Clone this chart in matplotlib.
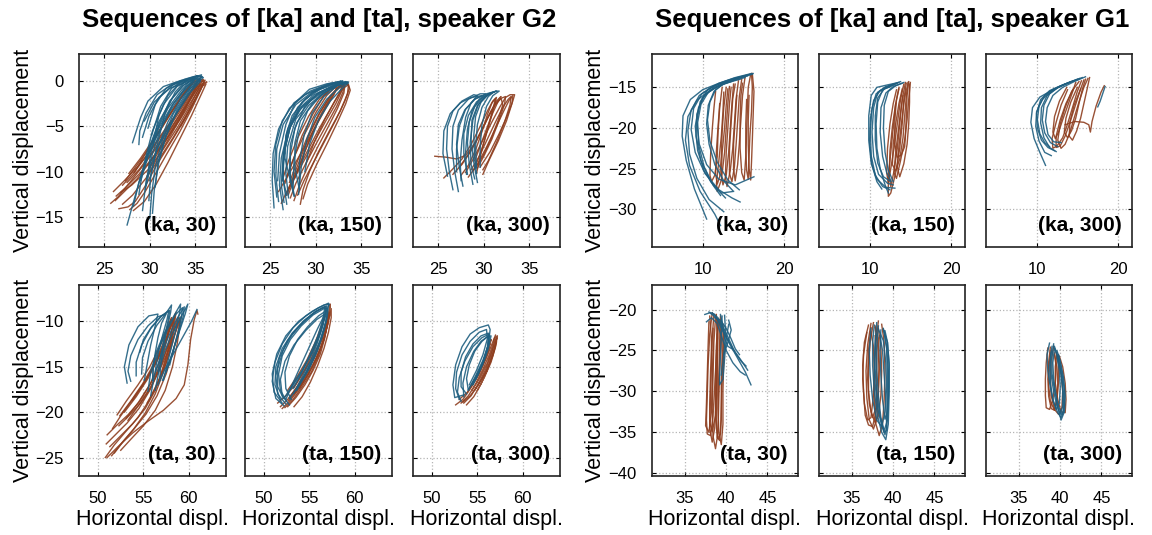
import matplotlib
matplotlib.use("Agg")
import matplotlib.pyplot as plt
import numpy as np

plt.rcParams["font.family"] = ["Liberation Sans", "DejaVu Sans"]

BLUE = "#1f5f80"
BROWN = "#8e3e1f"

# ---------------------------------------------------------------- data
# each curve is a list of (horizontal, vertical) points

# speaker G2, [ka]
G2_KA30_BLUE = [
    [(27.5, -15.9), (28.3, -13), (29.3, -9.5), (30.5, -6), (32, -3), (33.5, -1), (34.8, 0.4), (35.3, 0.6),
     (34.5, 0.3), (32.5, -0.3), (30.8, -1.5), (29.6, -3.5), (28.9, -5.5), (28.8, -7)],
    [(29.2, -14.3), (29.6, -11), (30.3, -8), (31.3, -5), (32.6, -2.5), (34, -0.6), (35.4, 0.5), (34.9, 0.5),
     (33.3, 0), (31.8, -0.8), (30.6, -2.6), (29.8, -5.2)],
    [(29.9, -13.2), (30.1, -10.5), (30.8, -7.5), (32, -4.5), (33.4, -2), (34.8, -0.2), (35.8, 0.5), (35.2, 0.6),
     (33.8, 0.2), (32.4, -0.8), (31.2, -2.8), (30.2, -6)],
    [(30.6, -11.7), (30.9, -9), (31.6, -6.5), (32.8, -3.8), (34.2, -1.5), (35.5, 0.2), (35.7, 0.7), (34.8, 0.4),
     (33, -0.6), (31.5, -2.6), (30.3, -5.5), (29.4, -9)],
    [(28.8, -12.5), (29.2, -10), (30, -7.2), (31, -4.5), (32.4, -2), (33.8, -0.4), (34.7, 0.2), (33.5, 0.1),
     (31.5, -0.6), (29.8, -2.2), (29, -4), (28.1, -6.8)],
    [(30.3, -14.6), (30.5, -12), (31, -9), (31.8, -6), (33, -3.2), (34.5, -0.8), (35.9, 0.4), (35.3, 0.5),
     (34, 0.1), (32.8, -1.2), (31.7, -3.5), (30.7, -7.5), (30, -11)],
    [(29.5, -12), (30.2, -9), (31.5, -6), (33, -3.5), (34.5, -1.2), (35.6, 0), (35, 0.3), (33.6, -0.5),
     (32.2, -2.2), (31, -4.8), (30.1, -8), (29.6, -11.5)],
    [(28.2, -13.8), (28.8, -11.2), (29.8, -8.2), (31.0, -5.2), (32.5, -2.6), (34.0, -0.7), (35.0, 0.3), (34.2, 0.2),
     (32.6, -0.4), (31.0, -1.8), (29.9, -3.9), (29.2, -6.2)],
    [(30.0, -15.2), (30.2, -12.5), (30.6, -9.5), (31.4, -6.5), (32.6, -3.6), (34.1, -1.2), (35.5, 0.3), (34.6, 0.3),
     (33.2, -0.3), (32.0, -1.6), (31.0, -3.8), (30.4, -6.8)],
    [(29.0, -11.0), (29.8, -8.4), (30.9, -5.8), (32.2, -3.4), (33.6, -1.3), (34.9, 0.1), (34.0, -0.1), (32.2, -0.8),
     (30.5, -2.3), (29.4, -4.4)],
]
G2_KA30_BROWN = [
    [(25.7, -13.5), (26.5, -12.8), (27.8, -11.2), (29.3, -9.3), (30.8, -7.3), (32.3, -5.2), (33.8, -3), (35, -1.2),
     (35.8, 0), (35.9, 0.2), (35.3, 0), (34.2, -1.5), (32.8, -3.8), (31.2, -6), (29.6, -8.3), (28.2, -10.2), (27, -11.5)],
    [(26.2, -13.2), (27.2, -12.2), (28.6, -10.8), (30.2, -8.7), (31.8, -6.5), (33.3, -4.3), (34.6, -2.2), (35.6, -0.6),
     (36.1, 0.1), (35.6, 0), (34.7, -1.1), (33.4, -3.2), (31.9, -5.5), (30.3, -7.8), (28.8, -9.8), (27.5, -11.2)],
    [(26.6, -14.1), (27.6, -13.9), (28.4, -13.3), (29.5, -11.6), (30.8, -9.2), (32.3, -6.8), (33.8, -4.3), (35.1, -1.9),
     (35.9, -0.3), (36.3, -0.1), (35.5, -0.4), (34.4, -2.2), (33, -4.6), (31.5, -7), (30, -9.4)],
    [(26.8, -12.3), (28, -11.5), (29.8, -9.8), (31.5, -7.5), (33, -5.2), (34.4, -2.8), (35.4, -0.8), (35.6, 0.2),
     (35, 0.1), (33.9, -1.2), (32.5, -3.3), (31, -5.7), (29.5, -8), (28.2, -9.8), (27.3, -11)],
    [(26.3, -12.7), (27.3, -11.8), (28.9, -10.2), (30.6, -8.1), (32, -6.1), (33.2, -4.1), (34.3, -2.2), (35.1, -0.6),
     (35.3, 0), (34.6, -0.2), (33.6, -1.5), (32.3, -3.5), (30.8, -5.9), (29.3, -8.4), (28.3, -10.1)],
    [(27.8, -14.2), (28.6, -13.5), (29.5, -12.2), (30.6, -10.3), (31.9, -8), (33.3, -5.6), (34.6, -3.1), (35.6, -1),
     (36, 0), (35.5, -0.1), (34.8, -1.3), (33.7, -3.5), (32.3, -6), (30.9, -8.4), (29.7, -10.5)],
    [(26.0, -12.2), (27.2, -11.0), (28.8, -9.3), (30.4, -7.3), (31.9, -5.2), (33.3, -3.1), (34.5, -1.3), (35.2, -0.2),
     (34.6, -0.4), (33.4, -1.9), (32.0, -4.0), (30.5, -6.3), (29.0, -8.5), (27.7, -10.2)],
    [(27.0, -13.6), (28.1, -12.6), (29.6, -10.7), (31.1, -8.5), (32.6, -6.2), (34.0, -3.8), (35.2, -1.6), (35.9, -0.4),
     (35.2, -0.6), (34.1, -2.3), (32.7, -4.7), (31.2, -7.1), (29.8, -9.3)],
    [(28.2, -14.3), (29.4, -13.3), (30.7, -11.4), (32.0, -9.0), (33.3, -6.4), (34.6, -3.8), (35.7, -1.4), (36.2, -0.3),
     (35.7, -0.6), (34.7, -2.6), (33.4, -5.0)],
]

G2_KA150_BLUE = [
    [(25.4, -14.0), (25.2, -11), (25.3, -8), (25.9, -5.3), (27.1, -3), (28.8, -1.5), (30.8, -0.6), (32.6, -0.1),
     (33.0, -0.1), (31.8, -0.6), (29.8, -1.5), (28.2, -3), (27.1, -5.3), (26.4, -8.5), (26.2, -11.5), (26.5, -13.4)],
    [(26.4, -14.2), (26.0, -11.5), (26.2, -8.5), (26.9, -5.6), (28.2, -3.2), (30, -1.6), (31.8, -0.6), (33.2, -0.2),
     (32.3, -0.4), (30.3, -1.3), (28.8, -2.8), (27.7, -5.2), (27.2, -8), (27.2, -11), (27.6, -12.7)],
    [(27.65, -12.7), (27.1, -10), (27.2, -7), (27.9, -4.6), (29.2, -2.7), (30.8, -1.3), (32.5, -0.4), (33.5, -0.1),
     (32.4, -0.5), (30.9, -1.7), (29.6, -3.5), (28.7, -6), (28.2, -9), (28.2, -11.5)],
    [(27.2, -11), (26.6, -8.5), (26.7, -6), (27.4, -3.8), (28.8, -2), (30.5, -0.9), (32.2, -0.3), (33.3, -0.1),
     (32, -0.3), (30.2, -0.9), (28.5, -2.3), (27.3, -4.6), (26.6, -7.5), (26.3, -10.5), (26.8, -12.6)],
    [(25.9, -13.3), (25.6, -10.5), (25.7, -7.5), (26.4, -4.8), (27.8, -2.6), (29.6, -1.2), (31.5, -0.4), (33.0, 0),
     (31.2, -0.3), (29.3, -0.9), (27.7, -2.4), (26.7, -4.8), (26.0, -8), (25.8, -11)],
    [(27, -12.9), (26.7, -10.2), (26.9, -7.2), (27.8, -4.2), (29.4, -2.2), (31.2, -0.9), (32.8, -0.2), (33.6, -0.1),
     (32.6, -0.7), (31.2, -2), (29.9, -4), (29, -6.5), (28.4, -9.5), (28.1, -12.5)],
    [(25.7, -12.8), (25.4, -10), (25.6, -7), (26.3, -4.4), (27.6, -2.4), (29.4, -1.1), (31.4, -0.3), (32.8, 0),
     (31.5, -0.4), (29.6, -1.3), (28.0, -2.9), (26.9, -5.3), (26.4, -8.2), (26.4, -11)],
    [(26.8, -13.6), (26.4, -10.8), (26.5, -7.8), (27.2, -5.0), (28.5, -2.8), (30.3, -1.3), (32.1, -0.4), (33.4, -0.1),
     (32.1, -0.6), (30.5, -1.6), (29.1, -3.3), (28.1, -5.8), (27.6, -8.8), (27.5, -11.8)],
    [(28.2, -12.0), (27.7, -9.5), (27.7, -6.8), (28.3, -4.4), (29.6, -2.5), (31.2, -1.1), (32.8, -0.3), (33.6, -0.2),
     (32.9, -0.8), (31.6, -2.2), (30.3, -4.3), (29.3, -7.0), (28.8, -10.0)],
]
G2_KA150_BROWN = [
    [(28.3, -13.6), (28.6, -12), (29.3, -10), (30.3, -7.8), (31.5, -5.5), (32.7, -3.3), (33.5, -1.4), (33.6, -0.4),
     (33.1, -0.3), (32.2, -1.1), (31.1, -2.8), (30.0, -5), (28.9, -7.5), (27.8, -10.3), (27.0, -12.5)],
    [(27.6, -13.2), (28.2, -11.5), (29.1, -9.5), (30.2, -7.3), (31.4, -5), (32.4, -3), (33.1, -1.3), (33.2, -0.5),
     (32.6, -0.6), (31.6, -1.6), (30.5, -3.4), (29.4, -5.7), (28.4, -8.3), (27.5, -10.6), (26.8, -12.6)],
    [(26.2, -13.5), (27.0, -11.8), (28.0, -9.8), (29.2, -7.5), (30.4, -5.2), (31.6, -3.1), (32.6, -1.3), (33.0, -0.3),
     (32.3, -0.5), (31.2, -1.6), (30.0, -3.5), (28.8, -5.8), (27.7, -8.2), (26.8, -10.5)],
    [(28.0, -12.6), (28.7, -11), (29.8, -8.9), (31.0, -6.6), (32.2, -4.3), (33.2, -2.2), (33.7, -0.8), (33.5, -0.2),
     (32.8, -0.4), (31.8, -1.5), (30.7, -3.4), (29.6, -5.7), (28.6, -8.3), (27.7, -10.7)],
    [(26.9, -12.2), (27.6, -10.8), (28.7, -8.8), (29.9, -6.6), (31.1, -4.4), (32.2, -2.5), (32.9, -1), (32.9, -0.3),
     (32.1, -0.5), (30.9, -1.6), (29.7, -3.6), (28.5, -6), (27.5, -8.7), (26.6, -11.3)],
    [(25.9, -12.2), (26.6, -11), (27.6, -9.3), (28.8, -7.2), (30.0, -5), (31.1, -3), (32.0, -1.5), (32.3, -0.7),
     (31.6, -0.9), (30.4, -2), (29.2, -3.9), (28.0, -6.3), (27.0, -8.8), (26.3, -11)],
    [(27.2, -12.9), (27.8, -11.3), (28.8, -9.3), (30.0, -7.0), (31.2, -4.8), (32.3, -2.8), (33.0, -1.2), (33.1, -0.4),
     (32.5, -0.6), (31.5, -1.8), (30.3, -3.7), (29.1, -6.1), (28.0, -8.8), (27.1, -11.2)],
    [(28.6, -13.0), (29.1, -11.4), (30.1, -9.2), (31.3, -6.8), (32.4, -4.5), (33.3, -2.5), (33.8, -1.0), (33.6, -0.4),
     (33.0, -0.8), (32.1, -2.2), (31.0, -4.2), (29.9, -6.6), (28.9, -9.2)],
]

G2_KA300_BLUE = [
    [(26.6, -12.0), (26.2, -10), (25.9, -7.5), (26.0, -5), (26.6, -3.3), (27.6, -2.2), (28.9, -1.5), (29.3, -1.6),
     (28.6, -2.4), (28.0, -4), (27.6, -6.5), (27.4, -9), (27.5, -11)],
    [(27.7, -11.6), (27.3, -9.5), (27.0, -7), (27.2, -4.8), (27.9, -3.2), (29.0, -2.0), (30.3, -1.4), (31.0, -1.2),
     (30.3, -1.6), (29.4, -2.6), (28.8, -4.3), (28.5, -6.8), (28.6, -9.2), (29.0, -10.8)],
    [(29.3, -11.2), (28.9, -9), (28.6, -6.5), (28.7, -4.3), (29.3, -2.7), (30.2, -1.7), (31.3, -1.1), (31.7, -1.1),
     (31.0, -1.6), (30.3, -2.8), (29.8, -4.8), (29.6, -7.2), (29.6, -9.5)],
    [(26.0, -10.5), (25.5, -8), (25.6, -5.5), (26.3, -3.6), (27.4, -2.4), (28.6, -1.8), (29.8, -1.6), (29.0, -2.0),
     (28.0, -3.1), (27.3, -5), (27.0, -7.5), (27.0, -10)],
    [(28.2, -10.3), (27.8, -8), (27.8, -5.8), (28.3, -3.8), (29.2, -2.3), (30.5, -1.4), (31.4, -1.1), (30.6, -1.4),
     (29.7, -2.3), (29.1, -3.9), (28.9, -6), (29.0, -8.5), (29.2, -10.2)],
    [(27.2, -12.2), (26.8, -10), (26.5, -7.5), (26.6, -5), (27.2, -3.2), (28.3, -2.0), (29.6, -1.4), (30.2, -1.4),
     (29.5, -2.0), (28.7, -3.3), (28.2, -5.3), (28.0, -7.8), (28.1, -10.3)],
    [(28.8, -11.4), (28.4, -9.2), (28.2, -6.8), (28.4, -4.5), (29.0, -2.8), (30.0, -1.7), (31.1, -1.2), (30.5, -1.7),
     (29.8, -2.9), (29.3, -4.8), (29.1, -7.2), (29.2, -9.6)],
]
G2_KA300_BROWN = [
    [(28.0, -10.1), (28.9, -8.5), (29.9, -6.5), (30.9, -4.5), (31.8, -2.8), (32.4, -1.8), (32.9, -1.5), (33.4, -1.5),
     (33.2, -2.2), (32.6, -3.8), (31.7, -5.8), (30.7, -7.8), (29.6, -9.5)],
    [(24.6, -8.3), (25.8, -8.4), (27.0, -8.6), (28.0, -8.2), (29.1, -6.8), (30.0, -5), (30.8, -3.3), (31.4, -2.2),
     (31.9, -1.7), (31.6, -2.2), (31.0, -3.5), (30.3, -5.3), (29.6, -7.2), (29.0, -8.8)],
    [(25.6, -10.7), (26.5, -9.8), (27.6, -8.6), (28.6, -7), (29.6, -5), (30.4, -3.3), (31.0, -2.2), (31.4, -1.8),
     (31.2, -2.6), (30.7, -4.4), (30.1, -6.5), (29.4, -8.6), (28.8, -10)],
    [(27.3, -9.5), (28.3, -8.1), (29.3, -6.3), (30.3, -4.3), (31.2, -2.7), (31.9, -1.9), (32.4, -1.7), (32.3, -2.5),
     (31.7, -4.3), (30.9, -6.4), (30.0, -8.3), (29.3, -9.6)],
    [(28.6, -9.8), (29.5, -8.3), (30.4, -6.4), (31.3, -4.5), (32.1, -2.9), (32.7, -2.0), (33.0, -1.7), (32.9, -2.6),
     (32.3, -4.5), (31.4, -6.8), (30.5, -8.8), (29.9, -9.8)],
    [(27.5, -10.4), (28.3, -9.3), (29.1, -7.6), (29.8, -5.6), (30.4, -3.7), (30.9, -2.4), (31.3, -1.9), (31.1, -2.7),
     (30.6, -4.6), (30.0, -6.8), (29.5, -8.8), (29.2, -10.2)],
    [(26.6, -10.3), (27.6, -9.2), (28.6, -7.7), (29.6, -5.8), (30.5, -3.9), (31.3, -2.5), (31.9, -1.9), (32.1, -2.6),
     (31.6, -4.3), (30.8, -6.4), (29.9, -8.3), (29.0, -9.7)],
    [(28.3, -10.6), (29.3, -9.2), (30.3, -7.3), (31.3, -5.2), (32.2, -3.3), (32.8, -2.1), (33.2, -1.6), (33.1, -2.5),
     (32.5, -4.4), (31.6, -6.6), (30.6, -8.7), (29.9, -10.3)],
]

# speaker G2, [ta]
G2_TA30_BLUE = [
    [(53.6, -16.6), (53.3, -15.5), (53.6, -13.8), (54.4, -12), (55.5, -10.5), (56.6, -9.5), (57.5, -9.2), (57.0, -10.2),
     (56.6, -11.8), (56.3, -13.5), (56.1, -15), (56.0, -16.5)],
    [(54.8, -15.8), (54.9, -14), (55.5, -12.2), (56.5, -10.4), (57.5, -9.1), (58.1, -8.2), (58.0, -9.0), (57.6, -10.8),
     (57.2, -12.8), (56.9, -14.8), (56.8, -16.5)],
    [(55.5, -17.7), (55.8, -15.6), (56.4, -13.4), (57.3, -11.3), (58.3, -9.5), (59.1, -8.1), (59.0, -9.0), (58.6, -10.8),
     (58.1, -12.8), (57.6, -14.8), (57.2, -16.5)],
    [(56.3, -17.6), (56.7, -15.5), (57.3, -13.4), (58.2, -11.3), (59.1, -9.6), (59.9, -8.1), (59.6, -9.2), (59.0, -11.0),
     (58.4, -12.8), (57.9, -14.8)],
    [(54.6, -13.4), (55.0, -12.0), (55.9, -10.6), (57.0, -9.4), (57.9, -8.8), (57.7, -10), (57.3, -11.8), (56.9, -13.8),
     (56.6, -15.5)],
    [(56.0, -16.5), (56.1, -14.8), (56.7, -13.0), (57.6, -11.0), (58.5, -9.3), (59.3, -8.5), (59.2, -9.5), (58.8, -11.3),
     (58.3, -13.2), (57.7, -15), (57.1, -16.5)],
    [(60.9, -8.7), (60.3, -10), (59.3, -11.8), (58.3, -13.6), (57.3, -15.4), (56.6, -17)],
    [(53.2, -16.8), (52.9, -15.0), (53.4, -12.6), (54.4, -10.6), (55.6, -9.4), (56.6, -9.2), (56.3, -10.5), (55.8, -12.6),
     (55.4, -14.8), (55.1, -16.5)],
    [(54.2, -16.0), (54.2, -14.5), (54.8, -12.6), (55.8, -10.8), (56.9, -9.5), (57.8, -8.8), (57.6, -9.8), (57.1, -11.6),
     (56.6, -13.6), (56.3, -15.5)],
    [(55.8, -18.2), (56.2, -16.0), (56.9, -13.8), (57.8, -11.6), (58.7, -9.7), (59.5, -8.4), (59.4, -9.4), (58.9, -11.2),
     (58.2, -13.4), (57.5, -15.6)],
]
G2_TA30_BROWN = [
    [(50.8, -25.0), (51.8, -23.6), (53.0, -22.2), (54.4, -20.6), (55.7, -18.6), (56.8, -16.2), (57.6, -13.6), (58.1, -11.2),
     (58.5, -9.2), (58.2, -10), (57.5, -12), (56.5, -14.3), (55.2, -16.6), (53.8, -18.6), (52.5, -20.4), (51.6, -21.8)],
    [(51.0, -22.5), (52.0, -21.5), (53.3, -20.3), (54.6, -18.8), (55.8, -16.8), (56.8, -14.4), (57.6, -11.8), (58.0, -9.8),
     (57.6, -10.8), (56.8, -12.8), (55.7, -15), (54.4, -17), (53.1, -18.8), (52.1, -20.3)],
    [(51.8, -24.5), (52.8, -23.2), (54.0, -21.8), (55.3, -20.2), (56.5, -18.2), (57.5, -15.8), (58.3, -13.2), (58.9, -10.8),
     (59.2, -9.4), (58.8, -10.5), (58.0, -12.6), (57.0, -14.9), (55.8, -17.2), (54.5, -19.2), (53.3, -20.9)],
    [(51.3, -23.8), (52.4, -22.7), (53.8, -21.3), (55.2, -19.6), (56.3, -17.6), (57.2, -15.2), (57.9, -12.8), (58.4, -10.4),
     (58.6, -9.0), (58.3, -9.8), (57.6, -11.8), (56.7, -14.0), (55.5, -16.3), (54.2, -18.3), (52.9, -20)],
    [(51.0, -25.0), (52.2, -23.8), (53.8, -22.3), (55.5, -21.0), (57.2, -19.8), (58.6, -18.5), (59.5, -17.0), (59.9, -14.8),
     (60.2, -12.0), (60.6, -9.8), (60.9, -8.8), (61.0, -9.2)],
    [(52.3, -21.5), (53.4, -20.4), (54.7, -19.0), (55.9, -17.2), (56.9, -15.0), (57.7, -12.6), (58.2, -10.6), (58.4, -9.6),
     (58.0, -10.6), (57.2, -12.6), (56.2, -14.8), (55.0, -16.9), (53.8, -18.7)],
    [(52.5, -24.2), (53.6, -23.0), (55.0, -21.5), (56.3, -19.8), (57.4, -17.6), (58.2, -15.0), (58.7, -12.6), (59.0, -10.6),
     (59.0, -9.6), (58.7, -10.6), (58.2, -12.4), (57.5, -14.6), (56.5, -17.0), (55.4, -19.0)],
    [(51.5, -24.8), (52.6, -23.4), (53.9, -21.9), (55.2, -20.1), (56.3, -18.0), (57.2, -15.6), (57.9, -13.2), (58.4, -10.8),
     (58.8, -9.6), (58.5, -10.6), (57.8, -12.6), (56.9, -14.8), (55.7, -17.0), (54.4, -19.0), (53.1, -20.7)],
    [(50.9, -23.5), (51.9, -22.5), (53.2, -21.2), (54.5, -19.6), (55.7, -17.6), (56.7, -15.2), (57.4, -12.8), (57.9, -10.6),
     (58.1, -9.6), (57.8, -10.6), (57.1, -12.6), (56.1, -14.8), (54.9, -16.9), (53.6, -18.8), (52.4, -20.4)],
]

G2_TA150_BLUE = [
    [(52.2, -19.3), (51.3, -18.5), (50.9, -16.6), (51.2, -14.5), (52.0, -12.5), (53.2, -10.7), (54.6, -9.4), (56.0, -8.5),
     (57.1, -8.0), (57.0, -9.2), (56.6, -11.0), (55.9, -13.2), (55.0, -15.2), (53.9, -17.0), (52.8, -18.5)],
    [(52.5, -18.8), (51.8, -17.6), (51.6, -15.8), (52.0, -13.8), (52.9, -12.0), (54.1, -10.5), (55.4, -9.3), (56.6, -8.6),
     (57.0, -8.6), (56.9, -9.8), (56.4, -11.7), (55.6, -13.8), (54.6, -15.8), (53.5, -17.6)],
    [(51.8, -18.6), (51.2, -17.0), (51.3, -15.0), (52.0, -13.0), (53.1, -11.3), (54.4, -9.9), (55.7, -8.9), (56.8, -8.4),
     (56.7, -9.4), (56.2, -11.3), (55.3, -13.4), (54.2, -15.4), (53.0, -17.2), (52.2, -18.5)],
    [(53.0, -18.6), (52.4, -17.4), (52.3, -15.6), (52.8, -13.8), (53.7, -12.0), (54.8, -10.6), (56.0, -9.4), (56.9, -8.8),
     (56.8, -10.0), (56.2, -12.0), (55.4, -14.0), (54.5, -15.9), (53.6, -17.6)],
    [(52.0, -19.0), (51.1, -17.8), (50.9, -15.8), (51.4, -13.6), (52.4, -11.6), (53.8, -10.0), (55.3, -8.9), (56.6, -8.2),
     (57.2, -8.1), (56.8, -9.0), (55.9, -10.8), (54.9, -13.0), (53.9, -15.2), (53.0, -17.2), (52.4, -18.6)],
    [(52.8, -19.2), (52.0, -18.2), (51.8, -16.4), (52.3, -14.4), (53.3, -12.6), (54.6, -11.0), (55.8, -9.8), (56.7, -9.2),
     (56.5, -10.4), (55.9, -12.3), (55.1, -14.4), (54.1, -16.3), (53.3, -17.9)],
    [(52.4, -19.1), (51.5, -18.0), (51.3, -16.0), (51.7, -14.0), (52.6, -12.1), (53.9, -10.5), (55.2, -9.3), (56.4, -8.5),
     (56.9, -8.3), (56.7, -9.6), (56.1, -11.5), (55.2, -13.6), (54.2, -15.6), (53.2, -17.4)],
    [(52.1, -18.4), (51.5, -17.2), (51.5, -15.2), (52.1, -13.2), (53.1, -11.4), (54.4, -10.0), (55.7, -8.9), (56.7, -8.4),
     (56.5, -9.7), (55.9, -11.7), (55.0, -13.8), (54.0, -15.8), (52.9, -17.5)],
]
G2_TA150_BROWN = [
    [(51.8, -19.4), (52.6, -18.6), (53.6, -17.3), (54.6, -15.8), (55.5, -14.0), (56.3, -12.0), (56.9, -10.0), (57.2, -8.6),
     (57.3, -8.1), (57.2, -9.4), (56.8, -11.2), (56.2, -13.0), (55.4, -14.8), (54.4, -16.5), (53.3, -18.0)],
    [(52.3, -19.5), (53.2, -18.6), (54.2, -17.2), (55.2, -15.6), (56.0, -13.8), (56.6, -12.0), (57.0, -10.3), (57.1, -9.2),
     (56.9, -10.2), (56.4, -12.0), (55.6, -13.8), (54.7, -15.5), (53.7, -17.1), (52.8, -18.4)],
    [(51.5, -19.0), (52.4, -18.2), (53.5, -16.9), (54.5, -15.3), (55.3, -13.6), (56.0, -11.8), (56.5, -10.2), (56.7, -9.4),
     (56.3, -10.6), (55.6, -12.4), (54.7, -14.3), (53.7, -16.0), (52.6, -17.6)],
    [(53.3, -19.4), (54.2, -18.3), (55.1, -16.7), (55.9, -14.9), (56.6, -13.0), (57.1, -11.2), (57.4, -9.6), (57.4, -8.6),
     (57.1, -10.0), (56.6, -12.0), (55.8, -14.0), (54.9, -15.8), (53.9, -17.4)],
    [(52.6, -19.4), (53.5, -18.4), (54.5, -17.0), (55.4, -15.4), (56.2, -13.6), (56.7, -11.8), (57.0, -10.0), (56.8, -10.4),
     (56.2, -12.2), (55.3, -14.0), (54.3, -15.7), (53.3, -17.3)],
    [(52.0, -19.6), (52.9, -18.7), (53.9, -17.4), (54.9, -15.8), (55.8, -14.0), (56.5, -12.2), (57.0, -10.4), (57.2, -9.0),
     (56.9, -10.0), (56.4, -11.8), (55.7, -13.7), (54.8, -15.6), (53.8, -17.3), (52.7, -18.7)],
]

G2_TA300_BLUE = [
    [(53.5, -18.1), (52.5, -18.4), (52.3, -17.0), (52.6, -14.8), (53.3, -12.8), (54.2, -11.4), (55.2, -10.7), (56.2, -10.4),
     (56.4, -10.9), (56.2, -12.6), (55.6, -14.5), (54.8, -16.2), (54.0, -17.5)],
    [(53.8, -18.0), (53.2, -17.2), (53.2, -15.6), (53.7, -13.9), (54.5, -12.5), (55.4, -11.6), (56.2, -11.3), (56.3, -12.2),
     (55.9, -13.8), (55.2, -15.5), (54.5, -16.9)],
    [(53.2, -18.8), (52.8, -17.8), (53.0, -16.2), (53.6, -14.4), (54.5, -12.8), (55.5, -11.8), (56.3, -11.4), (56.2, -12.6),
     (55.6, -14.3), (54.8, -16.0), (54.0, -17.6)],
    [(54.0, -17.6), (53.8, -16.3), (54.1, -14.8), (54.7, -13.3), (55.5, -12.2), (56.2, -11.6), (56.1, -12.8), (55.7, -14.3),
     (55.1, -15.8), (54.5, -17.0)],
    [(53.5, -18.3), (53.4, -16.8), (53.8, -15.0), (54.6, -13.3), (55.4, -12.2), (56.1, -11.7), (56.5, -11.6), (56.2, -13.0),
     (55.6, -14.7), (54.8, -16.4)],
    [(53.0, -18.6), (52.6, -17.4), (52.7, -15.6), (53.3, -13.7), (54.2, -12.2), (55.2, -11.2), (56.0, -10.9), (56.1, -11.9),
     (55.6, -13.7), (54.9, -15.4), (54.1, -17.0)],
]
G2_TA300_BROWN = [
    [(52.6, -19.2), (53.4, -18.6), (54.3, -17.3), (55.2, -15.8), (56.0, -14.0), (56.6, -12.5), (57.0, -11.5), (57.1, -12.3),
     (56.7, -13.8), (56.0, -15.5), (55.1, -17.0), (54.2, -18.2), (53.4, -18.9)],
    [(53.2, -19.0), (54.0, -18.2), (54.8, -16.9), (55.6, -15.3), (56.3, -13.7), (56.8, -12.3), (56.9, -11.8), (56.7, -13.0),
     (56.1, -14.6), (55.3, -16.2), (54.4, -17.6)],
    [(53.8, -19.2), (54.6, -18.3), (55.4, -16.9), (56.1, -15.3), (56.7, -13.6), (57.1, -12.0), (57.2, -11.6), (57.0, -12.8),
     (56.5, -14.5), (55.8, -16.1), (55.0, -17.6)],
    [(53.0, -18.6), (53.9, -17.8), (54.8, -16.4), (55.6, -14.8), (56.2, -13.2), (56.5, -12.0), (56.3, -12.8), (55.8, -14.3),
     (55.0, -15.9), (54.2, -17.2)],
    [(53.5, -19.0), (54.3, -18.2), (55.1, -16.9), (55.9, -15.3), (56.5, -13.7), (56.9, -12.4), (57.1, -11.9), (56.9, -13.0),
     (56.3, -14.7), (55.5, -16.3), (54.7, -17.6)],
]

# speaker G1, [ka]
G1_KA30_BLUE = [
    [(16.0, -13.3), (14, -13.8), (12, -14.5), (10, -15.3), (8.5, -16.5), (7.6, -18.5), (7.5, -21), (8.0, -24),
     (9.0, -27.5), (10.5, -31.2)],
    [(15.5, -13.6), (13.5, -14.1), (11.5, -14.8), (9.9, -15.8), (8.9, -17.6), (8.6, -20.2), (9.1, -23), (10.3, -25.6),
     (12, -27.6), (13.6, -28.6), (14.6, -29.1)],
    [(15.8, -13.4), (13.8, -13.9), (12, -14.5), (10.6, -15.3), (9.7, -16.8), (9.3, -19.2), (9.6, -22), (10.5, -24.5),
     (12, -26.3), (14, -27), (16.3, -26.0)],
    [(15.2, -13.8), (13.2, -14.3), (11.4, -15.0), (10.0, -16.3), (9.3, -18.3), (9.2, -21), (9.8, -24), (11, -26.6),
     (12.3, -28), (13.8, -27.8)],
    [(14.6, -14.0), (12.8, -14.5), (11.0, -15.3), (9.3, -16.6), (8.2, -18.6), (7.9, -21.5), (8.4, -24.6), (9.7, -27.8),
     (11.5, -30.6), (12.2, -32.0)],
    [(16.1, -13.4), (14.2, -13.9), (12.6, -14.5), (11.4, -15.5), (10.7, -17.2), (10.5, -19.5), (10.8, -22), (11.5, -24.5),
     (12.6, -26.5), (13.7, -27.7)],
    [(13.5, -14.3), (11.8, -14.9), (10.3, -15.9), (9.5, -17.5), (9.1, -19.8), (9.4, -22.8), (10.2, -25.3), (11.4, -27.2),
     (12.2, -28.3)],
    [(15.0, -13.7), (13.0, -14.2), (11.2, -14.9), (9.6, -16.0), (8.6, -17.8), (8.2, -20.3), (8.4, -23.2), (9.3, -26.2),
     (10.8, -28.8), (12.6, -30.3)],
    [(16.2, -13.3), (14.4, -13.8), (12.8, -14.4), (11.6, -15.3), (10.9, -16.8), (10.6, -19.0), (10.9, -21.6), (11.8, -24.2),
     (13.1, -26.4), (14.5, -27.6)],
    [(14.0, -14.1), (12.2, -14.7), (10.7, -15.6), (9.8, -17.1), (9.4, -19.3), (9.5, -22.0), (10.2, -24.8), (11.3, -27.0),
     (12.8, -28.6)],
]
G1_KA30_BROWN = [
    [(15.9, -13.4), (15.6, -15), (15.5, -17.5), (15.4, -20.5), (15.3, -23.5), (15.1, -26.4), (14.8, -25.5), (14.6, -22.5),
     (14.6, -19), (14.7, -16), (14.9, -14.5)],
    [(13.3, -14.9), (13.1, -17), (12.9, -20), (12.7, -23), (12.3, -26.4), (11.8, -27.8), (11.7, -26.8), (12.0, -24),
     (12.3, -21), (12.5, -18), (12.6, -15.6)],
    [(14.4, -14.2), (14.1, -16.5), (13.9, -19.5), (13.7, -22.5), (13.4, -25.2), (13.0, -27.2), (12.8, -26), (12.9, -23),
     (13.1, -20), (13.3, -17), (13.5, -15)],
    [(12.4, -15.0), (12.1, -17.5), (11.9, -20.5), (11.8, -23.5), (11.5, -25.8), (11.1, -26.6), (10.9, -25.8), (11.0, -23),
     (11.2, -20), (11.4, -17.5), (11.6, -15.5)],
    [(15.2, -13.8), (14.9, -16), (14.7, -19), (14.5, -22), (14.3, -24.5), (14.0, -26.5), (13.8, -25), (13.8, -22),
     (14.0, -19), (14.2, -16)],
    [(16.0, -13.3), (16.1, -15), (16.0, -18), (15.8, -21), (15.7, -23.5), (15.6, -26.3), (15.4, -25.2), (15.3, -22.5),
     (15.3, -19.5), (15.4, -16.5)],
    [(14.8, -14.0), (14.5, -16.2), (14.3, -19.2), (14.1, -22.2), (13.9, -24.8), (13.6, -26.6), (13.3, -25.6), (13.3, -22.6),
     (13.5, -19.4), (13.7, -16.4), (14.0, -14.6)],
    [(13.8, -14.6), (13.6, -17.0), (13.4, -20.0), (13.2, -23.0), (12.9, -25.8), (12.5, -27.0), (12.3, -25.8), (12.4, -23.0),
     (12.7, -20.0), (12.9, -17.2), (13.1, -15.2)],
    [(12.9, -15.0), (12.6, -17.5), (12.4, -20.5), (12.3, -23.5), (12.1, -26.0), (11.8, -26.9), (11.6, -25.6), (11.7, -22.8),
     (11.9, -19.8), (12.1, -17.0)],
    [(16.1, -13.3), (16.3, -15.5), (16.2, -18.5), (16.1, -21.5), (16.0, -24.2), (15.9, -26.4), (15.7, -25.0), (15.6, -22.0),
     (15.6, -19.0), (15.7, -16.0)],
]

G1_KA150_BLUE = [
    [(13.6, -14.4), (12.2, -14.7), (10.9, -15.0), (10.2, -16.0), (9.9, -18.5), (9.9, -21.5), (10.2, -24.3), (10.9, -26.3),
     (12.0, -27.3), (13.1, -27.4)],
    [(13.4, -14.5), (12.0, -14.9), (11.0, -15.6), (10.5, -17.5), (10.3, -20.5), (10.5, -23.5), (11.1, -25.7), (12.2, -26.8),
     (12.9, -27.0)],
    [(13.8, -14.3), (12.6, -14.7), (11.6, -15.3), (11.0, -16.8), (10.8, -19.5), (10.9, -22.5), (11.3, -25.0), (11.9, -27.0),
     (12.3, -28.0)],
    [(13.0, -14.7), (11.8, -15.2), (11.0, -16.3), (10.7, -18.5), (10.7, -21.5), (11.0, -24.3), (11.7, -26.0), (12.6, -26.6)],
    [(14.0, -14.5), (12.9, -14.9), (12.0, -15.7), (11.4, -17.5), (11.3, -20.5), (11.6, -23.5), (12.1, -25.5), (12.6, -26.5)],
    [(12.6, -14.9), (11.3, -15.4), (10.5, -16.6), (10.1, -18.8), (10.0, -21.8), (10.3, -24.6), (10.9, -26.6), (11.5, -27.5)],
    [(13.2, -14.6), (11.9, -15.0), (10.8, -15.8), (10.3, -17.6), (10.1, -20.4), (10.2, -23.4), (10.7, -25.8), (11.6, -27.2),
     (12.5, -27.6)],
    [(14.2, -14.4), (13.2, -14.8), (12.3, -15.5), (11.8, -17.2), (11.7, -20.0), (11.9, -23.0), (12.3, -25.2), (12.9, -26.6)],
]
G1_KA150_BROWN = [
    [(14.8, -14.3), (14.6, -16), (14.5, -18.6), (14.4, -21), (14.3, -22.3), (13.9, -23.3), (13.4, -23.6), (13.1, -22),
     (13.1, -19), (13.3, -16.5), (13.6, -15)],
    [(14.5, -14.5), (14.2, -16.5), (14.0, -19.5), (13.7, -22.5), (13.2, -25.5), (12.6, -28.0), (12.3, -28.4), (12.3, -26),
     (12.6, -23), (12.9, -20), (13.2, -17)],
    [(15.0, -14.4), (14.8, -16.5), (14.6, -19), (14.3, -21.5), (13.8, -24), (13.3, -26.2), (13.0, -25.5), (13.2, -23),
     (13.5, -20.5), (13.8, -18), (14.1, -16)],
    [(14.2, -14.6), (13.8, -16.5), (13.4, -19.5), (13.0, -22.5), (12.6, -25), (12.3, -26.8), (12.1, -25.5), (12.2, -22.5),
     (12.5, -19.5), (12.9, -17), (13.3, -15.3)],
    [(14.7, -14.4), (14.5, -16.2), (14.3, -18.6), (14.1, -21.2), (13.7, -23.8), (13.2, -25.3), (12.8, -24.5), (12.9, -22),
     (13.2, -19.5), (13.6, -17), (14.0, -15.2)],
    [(14.4, -14.4), (14.0, -16.5), (13.7, -19.5), (13.4, -22.5), (13.0, -25.3), (12.6, -27.2), (12.4, -25.8), (12.5, -22.8),
     (12.8, -19.8), (13.2, -17.0), (13.6, -15.2)],
    [(14.9, -14.6), (14.9, -16.8), (14.8, -19.5), (14.6, -22.0), (14.2, -24.4), (13.7, -26.0), (13.4, -24.8), (13.6, -22.2),
     (13.9, -19.5), (14.2, -17.0), (14.5, -15.2)],
]

G1_KA300_BLUE = [
    [(15.6, -13.8), (13.8, -14.5), (12, -15.3), (10.4, -16.2), (9.5, -17.5), (9.3, -19.3), (9.7, -21.3), (10.4, -23),
     (11.1, -24.6)],
    [(15.0, -14.0), (13.2, -14.7), (11.6, -15.4), (10.5, -16.5), (10.0, -18.2), (10.1, -20), (10.6, -21.5), (11.4, -22.4),
     (12.2, -22.8)],
    [(14.5, -14.2), (12.8, -14.9), (11.6, -15.8), (10.9, -17.2), (10.7, -19), (11.0, -20.6), (11.7, -21.8), (12.6, -22.3)],
    [(16.0, -13.7), (14.6, -14.3), (13.2, -15.0), (12.0, -16.0), (11.3, -17.5), (11.1, -19.2), (11.4, -20.8), (12.1, -21.7),
     (13.0, -21.8)],
    [(13.5, -14.6), (12.1, -15.2), (11.0, -16.0), (10.3, -17.3), (10.1, -19), (10.4, -20.7), (11.0, -21.8), (11.6, -22.3)],
    [(18.4, -14.9), (18.1, -15.8), (17.8, -16.7), (17.5, -17.4)],
    [(15.3, -13.9), (13.5, -14.6), (11.9, -15.4), (10.7, -16.5), (10.0, -18.0), (9.9, -19.8), (10.3, -21.6), (11.0, -23.0),
     (11.8, -23.4)],
    [(14.2, -14.3), (12.6, -15.0), (11.3, -16.0), (10.6, -17.5), (10.5, -19.4), (10.9, -21.2), (11.6, -22.4), (12.4, -22.9)],
]
G1_KA300_BROWN = [
    [(16.3, -13.9), (15.8, -15), (15.2, -16.8), (14.6, -18.8), (14.0, -20.8), (13.5, -22.0), (13.0, -22.5), (12.6, -21.5),
     (12.9, -19.5), (13.5, -17.5), (14.3, -15.5), (15.2, -14.3)],
    [(15.5, -14.2), (15.0, -15.5), (14.4, -17.5), (13.8, -19.5), (13.2, -21.2), (12.5, -22.2), (12.0, -22.5), (11.9, -21.3),
     (12.4, -19.3), (13.0, -17.2), (13.8, -15.3)],
    [(16.0, -14.0), (15.6, -15.3), (15.2, -17.0), (14.8, -18.8), (14.3, -20.3), (13.8, -21.2), (13.4, -20.5), (13.6, -18.8),
     (14.2, -16.8), (15.0, -15.0)],
    [(14.8, -14.4), (14.4, -15.6), (13.8, -17.3), (13.2, -19.0), (12.7, -20.5), (12.3, -21.3), (12.0, -20.5), (12.2, -18.6),
     (12.8, -16.7), (13.7, -15.0)],
    [(13.5, -19.6), (14.7, -19.2), (15.8, -19.3), (16.4, -19.6), (16.6, -20.5), (16.8, -19.2), (17.3, -17.3), (17.9, -15.6),
     (18.3, -14.8)],
    [(15.8, -14.1), (15.3, -15.5), (14.7, -17.4), (14.1, -19.3), (13.5, -21.0), (12.9, -22.2), (12.4, -22.4), (12.4, -21.0),
     (12.9, -19.0), (13.6, -17.0), (14.5, -15.2)],
    [(16.5, -13.8), (16.2, -15.2), (15.8, -17.0), (15.4, -18.8), (14.9, -20.4), (14.4, -21.5), (14.0, -21.0), (14.1, -19.2),
     (14.6, -17.2), (15.4, -15.2)],
]

# speaker G1, [ta]
G1_TA30_BLUE = [
    [(37.4, -20.6), (38.0, -20.4), (38.8, -21.0), (39.5, -22.5), (40.3, -24.0), (41.3, -25.8), (42.3, -27.6), (43.0, -29.2)],
    [(37.9, -20.3), (38.6, -20.6), (39.3, -21.8), (40.0, -23.3), (40.8, -24.8), (41.8, -26.2), (42.6, -27.4)],
    [(38.6, -21.0), (39.3, -21.3), (40.0, -22.3), (40.6, -23.6), (41.1, -24.8), (41.6, -25.5)],
    [(39.3, -20.6), (39.6, -22.0), (39.8, -23.5), (40.2, -24.5), (40.7, -24.8)],
    [(39.5, -20.8), (39.4, -23), (39.3, -25.5), (39.2, -28), (39.2, -29.2), (39.6, -28.5), (39.8, -26), (40.0, -23.5),
     (40.3, -21.8)],
    [(37.6, -21.5), (38.2, -21.0), (38.9, -21.7), (39.4, -23.2), (40.0, -25.0), (40.8, -26.5), (41.7, -27.6), (42.3, -28.0)],
    [(40.3, -21.3), (40.6, -22.5), (40.2, -24), (39.7, -25.5)],
    [(38.3, -20.4), (39.0, -21.0), (39.7, -22.3), (40.4, -23.8), (41.1, -25.3), (41.8, -26.3), (42.4, -26.9)],
    [(39.8, -20.7), (39.9, -22.5), (39.8, -24.5), (39.6, -26.5), (39.4, -28.0)],
]
G1_TA30_BROWN = [
    [(38.3, -20.4), (38.0, -23), (37.8, -26.8), (37.7, -30.5), (37.6, -33.5), (37.7, -35.2), (38.1, -35.4), (38.4, -33),
     (38.6, -29.5), (38.8, -25.5), (39.0, -22.5), (39.1, -21.2)],
    [(38.7, -21.0), (38.5, -24), (38.4, -28), (38.3, -32), (38.4, -35.5), (38.7, -37.0), (39.0, -35), (39.1, -31),
     (39.2, -27), (39.3, -23.5), (39.2, -21.5)],
    [(39.3, -20.8), (39.2, -24), (39.1, -28), (39.0, -32), (39.1, -35), (39.4, -36.5), (39.6, -34), (39.6, -30),
     (39.7, -26), (39.7, -22.5)],
    [(37.9, -21.5), (37.8, -24.5), (37.7, -28), (37.6, -31.5), (37.5, -34.2), (37.9, -35.0), (38.2, -32.5), (38.3, -29),
     (38.4, -25), (38.4, -22.3)],
    [(38.8, -20.6), (38.9, -23.5), (38.9, -27), (38.9, -30.5), (38.8, -33.5), (39.0, -35.8), (39.3, -35.2), (39.4, -32),
     (39.5, -28.5), (39.6, -25), (39.6, -21.8)],
    [(38.0, -20.8), (38.2, -23.5), (38.2, -27), (38.1, -30.5), (38.0, -33.8), (38.3, -34.9), (38.7, -33.0), (38.8, -29.5),
     (38.9, -26), (38.9, -23)],
    [(38.5, -20.6), (38.3, -23.5), (38.1, -27.5), (38.0, -31.5), (38.0, -34.5), (38.3, -36.2), (38.6, -34.5), (38.8, -30.8),
     (38.9, -27.0), (39.0, -23.5), (38.9, -21.2)],
    [(39.0, -21.4), (38.8, -24.5), (38.7, -28.5), (38.7, -32.5), (38.9, -35.6), (39.2, -36.0), (39.4, -33.5), (39.4, -29.5),
     (39.5, -25.5), (39.4, -22.5)],
]

G1_TA150_BLUE = [
    [(37.7, -21.9), (37.5, -24.0), (37.5, -26.8), (37.7, -30), (38.1, -33), (38.6, -35.0), (39.1, -35.9), (39.4, -34),
     (39.5, -30.5), (39.5, -26.8), (39.3, -24), (38.8, -22.4)],
    [(38.2, -22.0), (38.0, -24.5), (38.0, -27.5), (38.2, -30.5), (38.5, -33.2), (38.9, -34.8), (39.3, -33.5), (39.4, -30.5),
     (39.4, -27.5), (39.2, -24.5), (38.9, -22.6)],
    [(37.3, -22.3), (37.1, -25), (37.2, -28), (37.5, -31), (38.0, -33.5), (38.6, -34.3), (39.0, -32.5), (39.2, -29.5),
     (39.1, -26.5), (38.8, -23.8), (38.2, -22.4)],
    [(38.5, -22.5), (38.4, -25), (38.5, -28), (38.7, -31), (39.0, -33.4), (39.3, -32.5), (39.5, -29.5), (39.5, -26.5),
     (39.3, -24), (39.0, -22.6)],
    [(37.9, -23.0), (37.7, -26), (37.8, -29), (38.1, -32), (38.6, -34.2), (39.0, -35.3), (39.2, -34.3), (39.1, -31),
     (38.9, -28), (38.7, -25), (38.4, -23.2)],
    [(38.0, -21.6), (37.8, -24.2), (37.8, -27.2), (38.0, -30.3), (38.4, -33.0), (38.9, -35.0), (39.2, -34.8), (39.3, -31.5),
     (39.3, -28.0), (39.2, -24.8), (38.8, -22.3)],
]
G1_TA150_BROWN = [
    [(37.0, -21.9), (36.5, -24), (36.3, -26.8), (36.4, -30), (36.6, -32.9), (37.0, -34.1), (37.5, -34.3), (37.9, -32.5),
     (38.2, -29.5), (38.3, -26.5), (38.2, -23.5), (37.8, -22.0)],
    [(37.6, -21.6), (37.2, -24), (37.0, -27), (37.0, -30), (37.3, -32.5), (37.8, -33.8), (38.2, -33), (38.5, -30.5),
     (38.6, -27.5), (38.5, -24.5), (38.2, -22.3)],
    [(38.2, -21.4), (37.9, -24), (37.7, -27.5), (37.7, -31), (37.9, -34), (38.3, -35.4), (38.7, -34), (38.9, -31),
     (39.0, -27.5), (38.9, -24), (38.6, -21.8)],
    [(36.8, -22.8), (36.4, -25.5), (36.3, -28.5), (36.5, -31.5), (36.9, -33.5), (37.3, -33.2), (37.6, -30.5), (37.7, -27.5),
     (37.6, -24.5), (37.3, -22.7)],
    [(37.3, -22.2), (37.0, -25), (36.9, -28.5), (37.1, -31.5), (37.5, -33.2), (37.9, -32.0), (38.0, -29.0), (38.0, -26.0),
     (37.8, -23.2)],
    [(37.3, -21.7), (36.9, -24.3), (36.7, -27.5), (36.8, -30.8), (37.1, -33.5), (37.6, -34.6), (38.0, -33.4), (38.2, -30.5),
     (38.3, -27.3), (38.1, -24.2), (37.8, -22.2)],
]

G1_TA300_BLUE = [
    [(38.7, -24.1), (38.4, -25.5), (38.5, -27.5), (38.8, -29.5), (39.2, -31.3), (39.7, -32.6), (40.1, -33.2), (40.4, -32.5),
     (40.4, -30.5), (40.2, -28.3), (39.8, -26.2), (39.3, -24.5)],
    [(39.0, -24.5), (38.8, -26), (38.9, -28), (39.2, -30), (39.6, -31.8), (40.0, -32.8), (40.3, -31.8), (40.3, -29.8),
     (40.1, -27.8), (39.7, -25.8), (39.3, -24.7)],
    [(39.3, -24.8), (39.1, -26.5), (39.2, -28.5), (39.5, -30.5), (39.8, -32.3), (40.1, -33.5), (40.5, -32.5), (40.6, -30.5),
     (40.4, -28.3), (40.0, -26.3), (39.6, -25.0)],
    [(38.9, -25.2), (38.7, -27), (38.8, -29), (39.1, -31), (39.5, -32.2), (39.9, -31.4), (40.0, -29.5), (39.9, -27.5),
     (39.6, -25.8)],
    [(39.2, -24.2), (39.0, -25.8), (39.0, -27.8), (39.3, -29.8), (39.7, -31.6), (40.2, -32.9), (40.5, -31.8), (40.5, -29.8),
     (40.2, -27.6), (39.8, -25.5)],
]
G1_TA300_BROWN = [
    [(38.5, -24.7), (38.3, -26.5), (38.2, -28.5), (38.2, -30.5), (38.3, -32.0), (38.7, -32.2), (39.1, -31.0), (39.4, -29.0),
     (39.5, -27.0), (39.3, -25.3)],
    [(39.2, -24.5), (38.9, -26.2), (38.8, -28.3), (38.9, -30.5), (39.3, -32.2), (39.8, -32.8), (40.2, -32.0), (40.3, -30.0),
     (40.1, -27.8), (39.7, -25.6)],
    [(39.6, -25.3), (39.4, -27), (39.4, -29), (39.7, -31), (40.1, -32.5), (40.6, -32.6), (40.7, -31), (40.6, -29),
     (40.3, -27), (39.9, -25.7)],
    [(38.9, -25.0), (38.6, -27), (38.6, -29.3), (38.8, -31.2), (39.3, -32.3), (39.6, -31.0), (39.7, -29), (39.6, -27),
     (39.3, -25.5)],
    [(38.8, -24.6), (38.6, -26.4), (38.5, -28.5), (38.6, -30.6), (38.9, -32.1), (39.3, -32.3), (39.6, -31.0), (39.8, -28.8),
     (39.8, -26.7), (39.5, -25.2)],
]

# axis ranges and ticks per speaker / syllable
G2_KA_XLIM, G2_KA_YLIM = (22.2, 38.4), (-18.3, 3.0)
G2_TA_XLIM, G2_TA_YLIM = (47.9, 64.1), (-27.0, -6.0)
G1_KA_XLIM, G1_KA_YLIM = (3.8, 21.7), (-34.6, -10.9)
G1_TA_XLIM, G1_TA_YLIM = (31.0, 48.7), (-40.3, -17.0)
G2_KA_XTICKS, G2_KA_YTICKS = [25, 30, 35], [0, -5, -10, -15]
G2_TA_XTICKS, G2_TA_YTICKS = [50, 55, 60], [-10, -15, -20, -25]
G1_KA_XTICKS, G1_KA_YTICKS = [10, 20], [-15, -20, -25, -30]
G1_TA_XTICKS, G1_TA_YTICKS = [35, 40, 45], [-20, -25, -30, -35, -40]

RATES = [30, 150, 300]

W, H = 1152, 535


def px_axes(fig, left, top, width, height):
    return fig.add_axes([left / W, (H - top - height) / H, width / W, height / H])


def draw_panel(ax, blue, brown, label, xlim, ylim, xticks, yticks, show_y):
    for curve in brown:
        pts = np.array(curve)
        ax.plot(pts[:, 0], pts[:, 1], color=BROWN, lw=1.0, alpha=0.9, zorder=2)
    for curve in blue:
        pts = np.array(curve)
        ax.plot(pts[:, 0], pts[:, 1], color=BLUE, lw=1.0, alpha=0.9, zorder=3)
    ax.set_xlim(*xlim)
    ax.set_ylim(*ylim)
    ax.set_xticks(xticks)
    ax.set_yticks(yticks)
    ax.grid(True, color="#b5b5b5", linestyle=":", linewidth=0.9)
    ax.set_axisbelow(True)
    ax.tick_params(direction="in", length=3, width=0.8, top=True, right=True,
                   labelsize=12, pad=11)
    if not show_y:
        ax.tick_params(labelleft=False)
    for sp in ax.spines.values():
        sp.set_linewidth(1.2)
        sp.set_color("#222222")
    ax.text(0.93, 0.11, label, transform=ax.transAxes, ha="right", va="center",
            fontsize=15, fontweight="bold", zorder=5)


fig = plt.figure(figsize=(W / 100, H / 100), dpi=100)

groups = [
    ("G2", [79, 245, 413], 147,
     [G2_KA30_BLUE, G2_KA150_BLUE, G2_KA300_BLUE], [G2_KA30_BROWN, G2_KA150_BROWN, G2_KA300_BROWN],
     [G2_TA30_BLUE, G2_TA150_BLUE, G2_TA300_BLUE], [G2_TA30_BROWN, G2_TA150_BROWN, G2_TA300_BROWN],
     (G2_KA_XLIM, G2_KA_YLIM, G2_KA_XTICKS, G2_KA_YTICKS),
     (G2_TA_XLIM, G2_TA_YLIM, G2_TA_XTICKS, G2_TA_YTICKS), 24),
    ("G1", [652, 819, 986], 146,
     [G1_KA30_BLUE, G1_KA150_BLUE, G1_KA300_BLUE], [G1_KA30_BROWN, G1_KA150_BROWN, G1_KA300_BROWN],
     [G1_TA30_BLUE, G1_TA150_BLUE, G1_TA300_BLUE], [G1_TA30_BROWN, G1_TA150_BROWN, G1_TA300_BROWN],
     (G1_KA_XLIM, G1_KA_YLIM, G1_KA_XTICKS, G1_KA_YTICKS),
     (G1_TA_XLIM, G1_TA_YLIM, G1_TA_XTICKS, G1_TA_YTICKS), 596),
]

for spk, lefts, width, ka_b, ka_r, ta_b, ta_r, ka_ax, ta_ax, ylab_x in groups:
    for i, rate in enumerate(RATES):
        ax = px_axes(fig, lefts[i], 54, width, 192.7)
        draw_panel(ax, ka_b[i], ka_r[i], f"(ka, {rate})", *ka_ax, show_y=(i == 0))
        ax = px_axes(fig, lefts[i], 285, width, 190.7)
        draw_panel(ax, ta_b[i], ta_r[i], f"(ta, {rate})", *ta_ax, show_y=(i == 0))
        ax.set_xlabel("Horizontal displ.", fontsize=15.5, labelpad=2)
    for top, hgt in [(54, 192.7), (285, 190.7)]:
        fig.text(ylab_x / W, 1 - (top + hgt / 2) / H, "Vertical displacement",
                 rotation=90, ha="center", va="center", fontsize=15.5)
    center = (lefts[0] + lefts[2] + width) / 2
    fig.text(center / W, 1 - 20 / H, f"Sequences of [ka] and [ta], speaker {spk}",
             ha="center", va="center", fontsize=18.5, fontweight="bold")

fig.savefig("out.png", dpi=100)
